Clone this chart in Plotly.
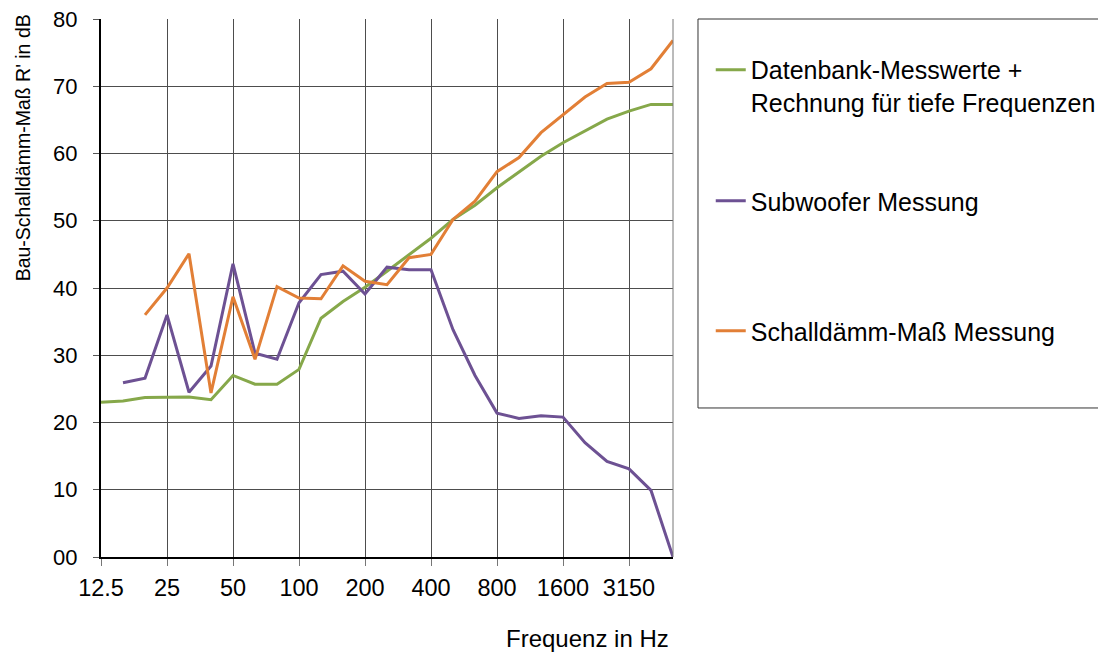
import plotly.graph_objects as go

# third-octave bands
frequencies = ["12.5", "16", "20", "25", "31.5", "40", "50", "63", "80", "100",
               "125", "160", "200", "250", "315", "400", "500", "630", "800",
               "1000", "1250", "1600", "2000", "2500", "3150", "4000", "5000"]

datenbank = [23.0, 23.2, 23.7, 23.8, 23.8, 23.4, 27.0, 25.7, 25.7, 27.9,
             35.5, 38.0, 40.1, 42.5, 45.0, 47.4, 50.2, 52.3, 54.9, 57.2,
             59.6, 61.6, 63.3, 65.1, 66.3, 67.3, 67.3]

subwoofer = [None, 25.9, 26.6, 36.0, 24.5, 28.4, 43.6, 30.3, 29.4, 37.8,
             42.0, 42.5, 39.1, 43.1, 42.7, 42.7, 33.8, 27.0, 21.4, 20.6,
             21.0, 20.8, 17.0, 14.2, 13.1, 9.9, 0.0]

schalldaemm = [None, None, 36.0, 40.0, 45.1, 24.4, 38.7, 29.4, 40.2, 38.5,
               38.4, 43.3, 41.0, 40.5, 44.5, 45.0, 50.2, 52.9, 57.3, 59.4,
               63.1, 65.8, 68.4, 70.4, 70.6, 72.6, 76.8]

tick_labels = frequencies[::3]
y_ticks = [0, 10, 20, 30, 40, 50, 60, 70, 80]
y_labels = ["00", "10", "20", "30", "40", "50", "60", "70", "80"]

names = ["Datenbank-Messwerte +<br>Rechnung für tiefe Frequenzen",
         "Subwoofer Messung", "Schalldämm-Maß Messung"]
colors = ["#86a84a", "#6d5193", "#e27f36"]
series = [datenbank, subwoofer, schalldaemm]
legends = ["legend", "legend2", "legend3"]

font = "Arial, Liberation Sans, sans-serif"

fig = go.Figure()
for name, color, values, leg in zip(names, colors, series, legends):
    fig.add_trace(go.Scatter(x=frequencies, y=values, name=name, mode="lines",
                             line=dict(color=color, width=3), legend=leg))

# one legend per entry so they can sit far apart inside the box
leg_style = dict(x=1.066, xanchor="left", yanchor="middle", bgcolor="rgba(0,0,0,0)",
                 font=dict(family=font, size=25, color="black"), itemwidth=30,
                 valign="top")
fig.update_layout(
    legend=dict(y=0.8755, **leg_style),
    legend2=dict(y=0.6617, **leg_style),
    legend3=dict(y=0.420, **leg_style),
)

fig.update_xaxes(type="category", range=[0, 26], tickmode="array",
                 tickvals=tick_labels, ticktext=tick_labels,
                 showgrid=True, gridcolor="#4d4d4d", gridwidth=1,
                 showline=True, linecolor="black", linewidth=2,
                 ticks="outside", ticklen=7, tickcolor="#777",
                 ticklabelstandoff=2,
                 tickfont=dict(family=font, size=23.5, color="black"))
fig.update_yaxes(range=[0, 80], tickmode="array", tickvals=y_ticks, ticktext=y_labels,
                 showgrid=True, gridcolor="#4d4d4d", gridwidth=1, zeroline=False,
                 showline=True, linecolor="black", linewidth=2,
                 ticks="outside", ticklen=6, tickcolor="#555",
                 ticklabelstandoff=11, ticklabeloverflow="allow",
                 tickfont=dict(family=font, size=22, color="black"))

# right plot edge and legend box
fig.add_shape(type="line", xref="paper", yref="paper", x0=1, x1=1, y0=0, y1=1,
              line=dict(color="#777", width=1))
fig.add_shape(type="rect", xref="paper", yref="paper", x0=1.0437, x1=1.764,
              y0=0.277, y1=1.0, line=dict(color="#333", width=1))

fig.add_annotation(text="Frequenz in Hz", xref="paper", yref="paper", x=0.996, y=-0.1506,
                   xanchor="right", yanchor="middle", showarrow=False,
                   font=dict(family=font, size=24, color="black"))
fig.add_annotation(text="Bau-Schalldämm-Maß R' in dB", xref="paper", yref="paper",
                   x=-0.136, y=0.760, xanchor="center", yanchor="middle", textangle=-90,
                   showarrow=False, font=dict(family=font, size=19.5, color="black"))

# page body adds 8px, so the figure is 8px smaller than the window
fig.update_layout(width=1098, height=645, plot_bgcolor="white", paper_bgcolor="white",
                  margin=dict(l=93, r=433, t=11, b=96, autoexpand=False),
                  showlegend=True)

fig.write_html("out.html")
